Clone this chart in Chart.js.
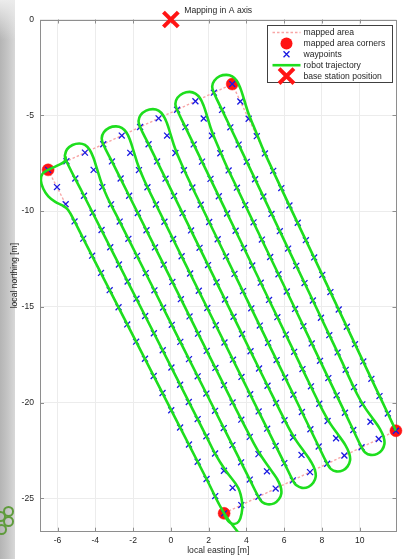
<!DOCTYPE html>
<html>
<head>
<meta charset="utf-8">
<title>Mapping in A axis</title>
<script src="https://cdn.jsdelivr.net/npm/chart.js@4.4.1/dist/chart.umd.min.js"></script>
<style>
  html, body { margin: 0; padding: 0; background: #fff; }
  #wrap { position: relative; width: 411px; height: 559px; overflow: hidden; background: #fff; }
  #edge { position: absolute; left: 0; top: 0; width: 15px; height: 559px;
          background: linear-gradient(to right, #b4b4b4 0%, #c6c6c6 55%, #d8d8d8 100%); }
  #edgeTop { position: absolute; left: 0; top: 0; width: 15px; height: 40px;
          background: linear-gradient(to bottom, #ececec 0%, rgba(236,236,236,0) 100%); }
  .ring { position: absolute; width: 7px; height: 7px; border: 2px solid #5f9b3c; border-radius: 50%; }
  canvas { position: absolute; left: 0; top: 0; }
</style>
</head>
<body>
<div id="wrap">
  <div id="edge"></div>
  <div id="edgeTop"></div>
  <div class="ring" style="left:3px; top:506px;"></div>
  <div class="ring" style="left:3px; top:516px;"></div>
  <div class="ring" style="left:-5px; top:511px;"></div>
  <div class="ring" style="left:-4px; top:524px;"></div>
  <canvas id="chart" width="411" height="559"></canvas>
</div>
<script>
// ---- plot text ----
const chartTitle = 'Mapping in A axis';
const eastLabel = 'local easting [m]';
const northLabel = 'local northing [m]';

// ---- axis limits and ticks [m] ----
const eastRange = [-6.93, 11.95];
const northRange = [-26.74, 0];
const eastTicks = [-6, -4, -2, 0, 2, 4, 6, 8, 10];
const northTicks = [0, -5, -10, -15, -20, -25];

// ---- mapped area outline (closed) ----
const areaEast  = [-6.50, 3.25, 11.92, 2.82, -6.50];
const areaNorth = [-7.85, -3.37, -21.47, -25.78, -7.85];

// ---- mapped area corners ----
const cornerEast  = [-6.50, 3.25, 11.92, 2.82];
const cornerNorth = [-7.85, -3.37, -21.47, -25.78];

// ---- base station ----
const baseEast  = [0];
const baseNorth = [0];

// ---- waypoints, one row of 21 per pass ----
const waypointEast = [
  -6.50, -6.03, -5.57, -5.10, -4.64, -4.17, -3.70, -3.24, -2.77, -2.31, -1.84, -1.37, -0.91, -0.44, 0.02, 0.49, 0.96, 1.42, 1.89, 2.35, 2.82,
  -5.53, -5.06, -4.60, -4.14, -3.67, -3.21, -2.75, -2.29, -1.82, -1.36, -0.90, -0.43, 0.03, 0.49, 0.95, 1.42, 1.88, 2.34, 2.81, 3.27, 3.73,
  -4.55, -4.09, -3.63, -3.17, -2.71, -2.25, -1.79, -1.33, -0.87, -0.41, 0.05, 0.50, 0.96, 1.42, 1.88, 2.34, 2.80, 3.26, 3.72, 4.18, 4.64,
  -3.58, -3.12, -2.66, -2.21, -1.75, -1.29, -0.84, -0.38, 0.08, 0.53, 0.99, 1.44, 1.90, 2.36, 2.81, 3.27, 3.73, 4.18, 4.64, 5.09, 5.55,
  -2.60, -2.15, -1.69, -1.24, -0.79, -0.34, 0.12, 0.57, 1.02, 1.48, 1.93, 2.38, 2.84, 3.29, 3.74, 4.20, 4.65, 5.10, 5.55, 6.01, 6.46,
  -1.63, -1.18, -0.73, -0.28, 0.17, 0.62, 1.07, 1.52, 1.97, 2.42, 2.87, 3.32, 3.77, 4.22, 4.67, 5.12, 5.57, 6.02, 6.47, 6.92, 7.37,
  -0.65, -0.20, 0.24, 0.69, 1.14, 1.58, 2.03, 2.48, 2.92, 3.37, 3.82, 4.26, 4.71, 5.15, 5.60, 6.05, 6.49, 6.94, 7.39, 7.83, 8.28,
  0.33, 0.77, 1.21, 1.65, 2.10, 2.54, 2.98, 3.43, 3.87, 4.31, 4.76, 5.20, 5.64, 6.09, 6.53, 6.97, 7.42, 7.86, 8.30, 8.75, 9.19,
  1.30, 1.74, 2.18, 2.62, 3.06, 3.50, 3.94, 4.38, 4.82, 5.26, 5.70, 6.14, 6.58, 7.02, 7.46, 7.90, 8.34, 8.78, 9.22, 9.66, 10.10,
  2.28, 2.71, 3.15, 3.59, 4.02, 4.46, 4.90, 5.33, 5.77, 6.21, 6.64, 7.08, 7.52, 7.95, 8.39, 8.83, 9.26, 9.70, 10.14, 10.57, 11.01,
  3.25, 3.68, 4.12, 4.55, 4.98, 5.42, 5.85, 6.28, 6.72, 7.15, 7.59, 8.02, 8.45, 8.89, 9.32, 9.75, 10.19, 10.62, 11.05, 11.49, 11.92
];
const waypointNorth = [
  -7.85, -8.75, -9.64, -10.54, -11.44, -12.33, -13.23, -14.13, -15.02, -15.92, -16.82, -17.71, -18.61, -19.50, -20.40, -21.30, -22.19, -23.09, -23.99, -24.88, -25.78,
  -7.40, -8.30, -9.20, -10.09, -10.99, -11.89, -12.79, -13.68, -14.58, -15.48, -16.38, -17.27, -18.17, -19.07, -19.97, -20.86, -21.76, -22.66, -23.56, -24.45, -25.35,
  -6.95, -7.85, -8.75, -9.65, -10.55, -11.45, -12.34, -13.24, -14.14, -15.04, -15.94, -16.83, -17.73, -18.63, -19.53, -20.43, -21.33, -22.22, -23.12, -24.02, -24.92,
  -6.51, -7.41, -8.30, -9.20, -10.10, -11.00, -11.90, -12.80, -13.70, -14.60, -15.50, -16.40, -17.30, -18.19, -19.09, -19.99, -20.89, -21.79, -22.69, -23.59, -24.49,
  -6.06, -6.96, -7.86, -8.76, -9.66, -10.56, -11.46, -12.36, -13.26, -14.16, -15.06, -15.96, -16.86, -17.76, -18.66, -19.56, -20.46, -21.36, -22.26, -23.16, -24.06,
  -5.61, -6.51, -7.41, -8.31, -9.21, -10.11, -11.01, -11.92, -12.82, -13.72, -14.62, -15.52, -16.42, -17.32, -18.22, -19.12, -20.02, -20.92, -21.82, -22.73, -23.63,
  -5.16, -6.06, -6.97, -7.87, -8.77, -9.67, -10.57, -11.47, -12.37, -13.28, -14.18, -15.08, -15.98, -16.88, -17.78, -18.69, -19.59, -20.49, -21.39, -22.29, -23.19,
  -4.71, -5.62, -6.52, -7.42, -8.32, -9.23, -10.13, -11.03, -11.93, -12.84, -13.74, -14.64, -15.54, -16.45, -17.35, -18.25, -19.15, -20.06, -20.96, -21.86, -22.76,
  -4.27, -5.17, -6.07, -6.98, -7.88, -8.78, -9.69, -10.59, -11.49, -12.40, -13.30, -14.20, -15.11, -16.01, -16.91, -17.82, -18.72, -19.62, -20.53, -21.43, -22.33,
  -3.82, -4.72, -5.63, -6.53, -7.43, -8.34, -9.24, -10.15, -11.05, -11.96, -12.86, -13.76, -14.67, -15.57, -16.48, -17.38, -18.29, -19.19, -20.09, -21.00, -21.90,
  -3.37, -4.28, -5.18, -6.09, -6.99, -7.90, -8.80, -9.71, -10.61, -11.52, -12.42, -13.33, -14.23, -15.14, -16.04, -16.95, -17.85, -18.76, -19.66, -20.57, -21.47
];

// ---- recorded robot track: main run with its turning loops ----
const trackEastA = [
  3.66, 2.82, 1.89, -1.84, -4.64, -5.10, -5.45, -5.72, -6.12, -6.49, -6.75, -6.88, -6.80, -6.50, -6.02, -5.60,
  -5.61, -5.50, -5.21, -4.85, -4.55, -4.31, -4.11, -3.92, -3.67, -3.36,
  -2.71, 0.50, 3.26, 4.18, 4.64,
  4.83, 5.12, 5.47, 5.72, 5.85, 5.81, 5.61, 5.26, 4.81, 4.40,
  3.27, 0.08, -2.21, -3.12, -3.58,
  -3.66, -3.55, -3.26, -2.90, -2.60, -2.36, -2.16, -1.97, -1.72, -1.41,
  -0.79, 2.38, 5.10, 6.01, 6.46,
  6.65, 6.94, 7.29, 7.54, 7.67, 7.63, 7.43, 7.08, 6.63, 6.22,
  5.12, 1.97, -0.28, -1.18, -1.63,
  -1.71, -1.60, -1.31, -0.95, -0.65, -0.41, -0.21, -0.02, 0.23, 0.54,
  1.14, 4.26, 6.94, 7.83, 8.28,
  8.47, 8.76, 9.11, 9.36, 9.49, 9.45, 9.25, 8.90, 8.45, 8.04,
  6.97, 3.87, 1.65, 0.77, 0.33,
  0.24, 0.35, 0.64, 1.00, 1.30, 1.54, 1.74, 1.93, 2.18, 2.49,
  3.06, 6.14, 8.78, 9.66, 10.10,
  10.29, 10.58, 10.93, 11.18, 11.31, 11.27, 11.07, 10.72, 10.27, 9.86,
  8.83, 5.77, 3.59, 2.71, 2.28,
  2.19, 2.30, 2.59, 2.95, 3.25, 3.49, 3.69, 3.88, 4.13, 4.44,
  4.98, 8.02, 10.62, 11.49, 11.92
];
const trackNorthA = [
  -26.90, -25.78, -23.99, -16.82, -11.44, -10.54, -9.93, -9.72, -9.52, -9.23, -8.85, -8.42, -8.06, -7.85, -7.63, -7.38,
  -7.09, -6.78, -6.55, -6.47, -6.55, -6.79, -7.19, -7.77, -8.54, -9.29,
  -10.55, -16.83, -22.22, -24.02, -24.92,
  -25.19, -25.31, -25.26, -25.05, -24.75, -24.38, -23.96, -23.46, -22.83, -22.14,
  -19.99, -13.70, -9.20, -7.41, -6.51,
  -6.19, -5.89, -5.65, -5.58, -5.66, -5.89, -6.30, -6.88, -7.65, -8.39,
  -9.66, -15.96, -21.36, -23.16, -24.06,
  -24.32, -24.45, -24.40, -24.19, -23.88, -23.52, -23.10, -22.59, -21.97, -21.28,
  -19.12, -12.82, -8.31, -6.51, -5.61,
  -5.30, -4.99, -4.76, -4.68, -4.76, -5.00, -5.40, -5.98, -6.75, -7.49,
  -8.77, -15.08, -20.49, -22.29, -23.19,
  -23.46, -23.59, -23.54, -23.33, -23.02, -22.66, -22.23, -21.73, -21.11, -20.41,
  -18.25, -11.93, -7.42, -5.62, -4.71,
  -4.40, -4.09, -3.86, -3.78, -3.87, -4.10, -4.51, -5.09, -5.86, -6.60,
  -7.88, -14.20, -19.62, -21.43, -22.33,
  -22.60, -22.73, -22.68, -22.47, -22.16, -21.80, -21.37, -20.87, -20.25, -19.55,
  -17.38, -11.05, -6.53, -4.72, -3.82,
  -3.50, -3.20, -2.96, -2.89, -2.97, -3.20, -3.61, -4.19, -4.96, -5.70,
  -6.99, -13.33, -18.76, -20.57, -21.47
];

// ---- recorded robot track: second pass with the first bottom loop ----
const trackEastB  = [-5.58, -5.53, -4.60, -1.36, 1.88, 2.34, 2.90, 3.57, 3.78, 3.75, 3.60, 3.36, 3.12, 2.94, 2.84];
const trackNorthB = [-7.15, -7.40, -9.20, -15.48, -21.76, -22.66, -23.55, -24.46, -25.26, -25.77, -26.20, -26.34, -26.26, -26.05, -25.85];

const pairs = (xs, ys) => xs.map((v, i) => ({ x: v, y: ys[i] }));

const FONT = '"Liberation Sans", Arial, Helvetica, sans-serif';
const TEXT = '#262626';
const FONT_SIZE = 8.6;

// axes box with inward ticks, title and an in-plot legend
const framePlugin = {
  id: 'frame',
  beforeDatasetsDraw(chart) {
    const { ctx, chartArea: a, scales: { x, y } } = chart;
    ctx.save();
    ctx.strokeStyle = '#8e8e8e';
    ctx.lineWidth = 1;
    ctx.beginPath();
    for (const t of x.ticks) {
      const px = Math.round(x.getPixelForValue(t.value)) + 0.5;
      ctx.moveTo(px, a.bottom); ctx.lineTo(px, a.bottom - 4);
      ctx.moveTo(px, a.top); ctx.lineTo(px, a.top + 4);
    }
    for (const t of y.ticks) {
      const py = Math.round(y.getPixelForValue(t.value)) + 0.5;
      ctx.moveTo(a.left, py); ctx.lineTo(a.left + 4, py);
      ctx.moveTo(a.right, py); ctx.lineTo(a.right - 4, py);
    }
    ctx.stroke();
    ctx.strokeRect(Math.round(a.left) + 0.5, Math.round(a.top) + 0.5,
                   Math.round(a.right - a.left) - 1, Math.round(a.bottom - a.top) - 1);
    ctx.restore();
  },
  afterDraw(chart) {
    const { ctx, chartArea: a } = chart;
    ctx.save();
    ctx.font = FONT_SIZE + 'px ' + FONT;
    ctx.fillStyle = TEXT;
    ctx.textAlign = 'center';
    ctx.textBaseline = 'middle';
    ctx.fillText(chartTitle, (a.left + a.right) / 2, 10.8);

    // legend box
    const w = 125, h = 57;
    const lx = Math.round(a.right - 4.5 - w) + 0.5, ly = Math.round(a.top + 5.5) + 0.5;
    ctx.fillStyle = '#fff';
    ctx.fillRect(lx, ly, w, h);
    ctx.strokeStyle = '#404040';
    ctx.lineWidth = 1;
    ctx.strokeRect(lx, ly, w, h);

    const seen = new Set();
    let row = 0;
    chart.data.datasets.forEach(ds => {
      if (seen.has(ds.label)) return;
      seen.add(ds.label);
      const cy = ly + 7 + row * 10.9;
      const cx = lx + 19;
      row++;
      ctx.save();
      if (ds.showLine) {
        ctx.strokeStyle = ds.borderColor;
        ctx.lineWidth = ds.borderWidth;
        ctx.setLineDash(ds.borderDash || []);
        ctx.beginPath();
        ctx.moveTo(lx + 5, cy); ctx.lineTo(lx + 33, cy);
        ctx.stroke();
      } else if (ds.pointStyle === 'circle') {
        ctx.fillStyle = ds.backgroundColor;
        ctx.beginPath();
        ctx.arc(cx, cy, ds.pointRadius, 0, Math.PI * 2);
        ctx.fill();
      } else {
        const r = ds.pointRadius * Math.SQRT1_2;
        ctx.strokeStyle = ds.borderColor;
        ctx.lineWidth = ds.borderWidth;
        ctx.beginPath();
        ctx.moveTo(cx - r, cy - r); ctx.lineTo(cx + r, cy + r);
        ctx.moveTo(cx + r, cy - r); ctx.lineTo(cx - r, cy + r);
        ctx.stroke();
      }
      ctx.restore();
      ctx.fillStyle = TEXT;
      ctx.textAlign = 'left';
      ctx.textBaseline = 'middle';
      ctx.fillText(ds.label, lx + 36, cy + 0.5);
    });
    ctx.restore();
  }
};

const GREEN = 'rgb(30,222,30)';
const RED = '#ff1414';

new Chart(document.getElementById('chart'), {
  type: 'scatter',
  data: {
    datasets: [
      {
        label: 'mapped area', data: pairs(areaEast, areaNorth), showLine: true,
        borderColor: 'rgb(248,166,166)', borderWidth: 1.4, borderDash: [2.5, 2], pointRadius: 0,
        tension: 0, order: 5
      },
      {
        label: 'mapped area corners', data: pairs(cornerEast, cornerNorth), showLine: false,
        pointStyle: 'circle', pointRadius: 6, backgroundColor: RED, borderColor: RED, borderWidth: 0.5,
        clip: false, order: 4
      },
      {
        label: 'waypoints', data: pairs(waypointEast, waypointNorth), showLine: false,
        pointStyle: 'crossRot', pointRadius: 4.2, borderColor: 'rgb(25,25,225)', backgroundColor: 'rgb(25,25,225)',
        borderWidth: 1.3, clip: false, order: 3
      },
      {
        label: 'robot trajectory', data: pairs(trackEastA, trackNorthA), showLine: true,
        borderColor: GREEN, borderWidth: 2.6, pointRadius: 0, tension: 0.4, order: 2
      },
      {
        label: 'robot trajectory', data: pairs(trackEastB, trackNorthB), showLine: true,
        borderColor: GREEN, borderWidth: 2.6, pointRadius: 0, tension: 0.4, order: 2
      },
      {
        label: 'base station position', data: pairs(baseEast, baseNorth), showLine: false,
        pointStyle: 'crossRot', pointRadius: 10.5, borderColor: RED, backgroundColor: RED,
        borderWidth: 4, clip: false, order: 1
      }
    ]
  },
  options: {
    responsive: false,
    maintainAspectRatio: false,
    animation: false,
    events: [],
    layout: { padding: { left: 0, right: 9.5, top: 19.5, bottom: 0 } },
    plugins: { legend: { display: false }, tooltip: { enabled: false }, title: { display: false } },
    scales: {
      x: {
        type: 'linear', position: 'bottom', min: eastRange[0], max: eastRange[1],
        afterBuildTicks: s => { s.ticks = eastTicks.map(v => ({ value: v })); },
        afterFit: s => { s.height = 27.3; },
        grid: { color: '#ececec', lineWidth: 1, drawTicks: false },
        border: { display: false },
        ticks: { font: { family: FONT, size: FONT_SIZE }, color: TEXT, padding: 4, maxRotation: 0, autoSkip: false },
        title: { display: true, text: eastLabel, font: { family: FONT, size: FONT_SIZE }, color: TEXT, padding: { top: 0, bottom: 3 } }
      },
      y: {
        type: 'linear', position: 'left', min: northRange[0], max: northRange[1],
        afterBuildTicks: s => { s.ticks = northTicks.map(v => ({ value: v })); },
        afterFit: s => { s.width = 40; },
        grid: { color: '#ececec', lineWidth: 1, drawTicks: false },
        border: { display: false },
        ticks: { font: { family: FONT, size: FONT_SIZE }, color: TEXT, padding: 6, autoSkip: false },
        title: { display: true, text: northLabel, font: { family: FONT, size: FONT_SIZE }, color: TEXT, padding: { top: 9.6, bottom: 0 } }
      }
    }
  },
  plugins: [framePlugin]
});
</script>
</body>
</html>
